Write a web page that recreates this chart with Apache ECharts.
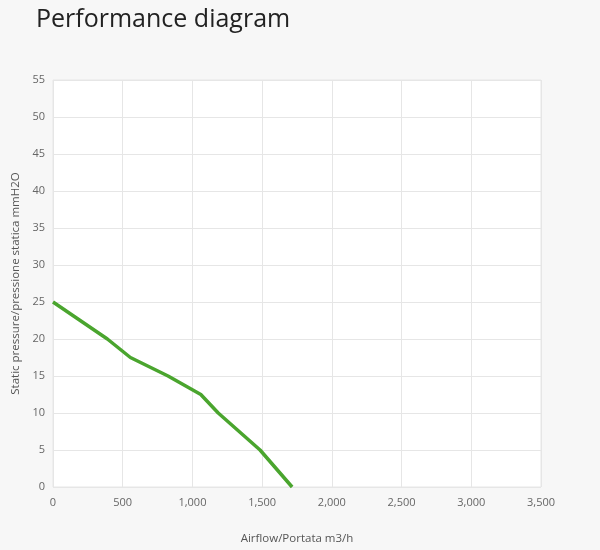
<!DOCTYPE html>
<html><head><meta charset="utf-8">
<script src="https://cdn.jsdelivr.net/npm/echarts@6/dist/echarts.min.js"></script>
<style>html,body{margin:0;padding:0;background:#f7f7f7;}#c{width:600px;height:550px;}</style>
</head><body><div id="c"></div>
<script>
var airflow = [0, 390, 555, 825, 1060, 1185, 1485, 1715];
var pressure = [25, 20, 17.5, 15, 12.5, 10, 5, 0];
var xTicks = [0, 500, 1000, 1500, 2000, 2500, 3000, 3500];
var yTicks = [0, 5, 10, 15, 20, 25, 30, 35, 40, 45, 50, 55];

var chart = echarts.init(document.getElementById('c'));
var pts = airflow.map(function (a, i) { return [a, pressure[i]]; });
chart.setOption({
  backgroundColor: '#f7f7f7',
  animation: false,
  title: {
    text: 'Performance diagram', left: 31, top: 2,
    textStyle: { fontFamily: 'Open Sans', fontSize: 25, fontWeight: 'normal', color: '#222' }
  },
  grid: { left: 53, right: 59, top: 80, bottom: 59, show: true, backgroundColor: '#fff', borderColor: '#e6e6e6', borderWidth: 1 },
  xAxis: {
    type: 'value', min: xTicks[0], max: xTicks[xTicks.length - 1], interval: 500,
    name: 'Airflow/Portata m3/h', nameLocation: 'middle', nameGap: 46,
    nameTextStyle: { fontFamily: 'Open Sans', fontSize: 11.5, color: '#555' },
    axisLine: { show: false }, axisTick: { show: false },
    axisLabel: { fontFamily: 'Open Sans', fontSize: 11, color: '#666', margin: 10,
      formatter: function (v) { return v.toLocaleString('en-US'); } },
    splitLine: { show: true, lineStyle: { color: '#e6e6e6' } }
  },
  yAxis: {
    type: 'value', min: yTicks[0], max: yTicks[yTicks.length - 1], interval: 5,
    name: 'Static pressure/pressione statica mmH2O', nameLocation: 'middle', nameGap: 30,
    nameTextStyle: { fontFamily: 'Open Sans', fontSize: 11.5, color: '#555' },
    axisLine: { show: false }, axisTick: { show: false },
    axisLabel: { fontFamily: 'Open Sans', fontSize: 11, color: '#666', margin: 8 },
    splitLine: { show: true, lineStyle: { color: '#e6e6e6' } }
  },
  series: [{
    type: 'line', data: pts, showSymbol: false,
    lineStyle: { color: '#4aa52e', width: 3.5 }, itemStyle: { color: '#4aa52e' }
  }]
});
</script></body></html>
